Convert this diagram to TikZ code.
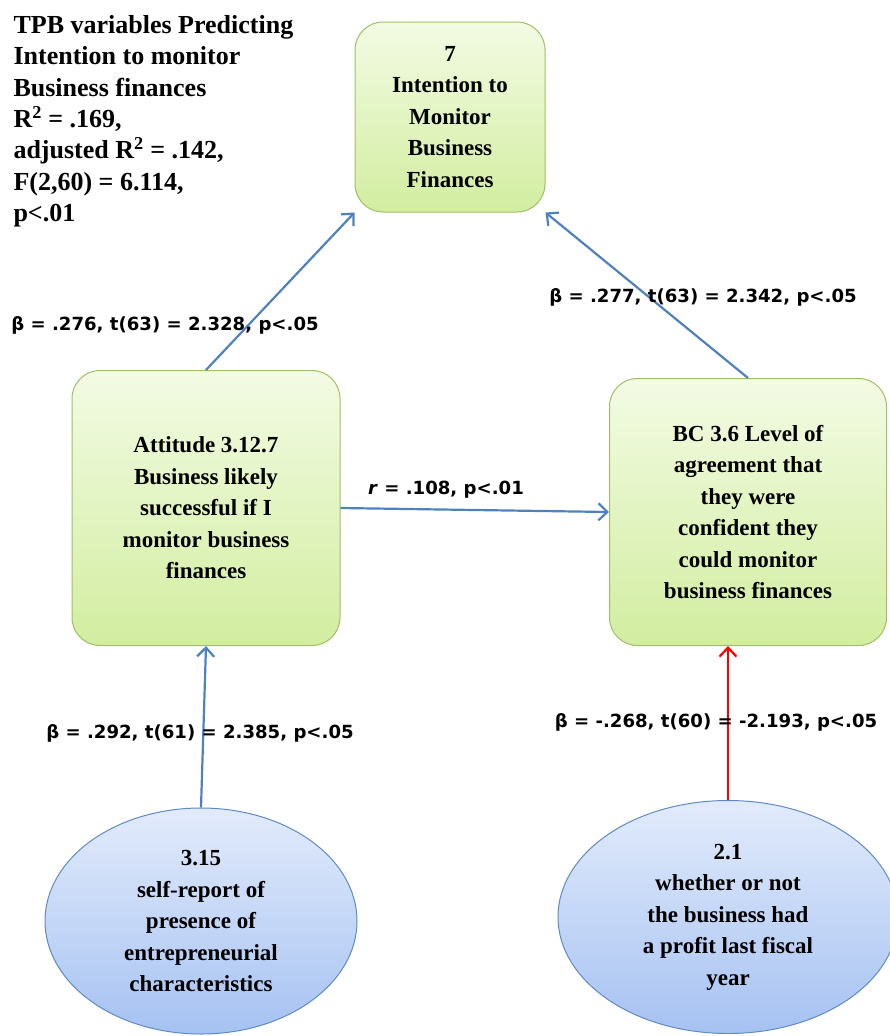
\documentclass[tikz,border=0pt]{standalone}
\usepackage{fontspec}
\setmainfont{Liberation Serif}
\newfontfamily\statfont{DejaVu Sans}
\usetikzlibrary{positioning, shapes.geometric, arrows.meta}
\definecolor{edgegreen}{HTML}{9fc063}
\definecolor{topgreen}{HTML}{f3fbe4}
\definecolor{botgreen}{HTML}{d2eda0}
\definecolor{edgeblue}{HTML}{5f8bc4}
\definecolor{topblue}{HTML}{e2ebfb}
\definecolor{botblue}{HTML}{a6c2f2}
\definecolor{linkblue}{HTML}{4f81bd}
\definecolor{linkred}{HTML}{ff0000}

\begin{document}
\begin{tikzpicture}[
  x=1pt, y=-1pt,
  font=\fontsize{23}{31.5}\selectfont\bfseries,
  box/.style={draw=edgegreen, line width=1pt, rounded corners=28pt, top color=topgreen, bottom color=botgreen, inner sep=0pt, align=center},
  cause/.style={ellipse, draw=edgeblue, line width=1pt, top color=topblue, bottom color=botblue, inner sep=0pt, align=center},
  stat/.style={font=\statfont\fontsize{18.1}{21}\selectfont\bfseries},
  arr/.style={-{Straight Barb[length=9pt,width=17pt]}, line width=2.2pt, linkblue}
]
  \useasboundingbox (0,0) rectangle (889,1036);

  \node[anchor=north west, align=left, font=\fontsize{26}{31.3}\selectfont\bfseries] (summary) at (10,12)
    {TPB variables Predicting\\Intention to monitor\\Business finances\\R\textsuperscript{2} = .169,\\adjusted R\textsuperscript{2} = .142,\\F(2,60) = 6.114,\\p<.01};

  \node[box, minimum width=190pt, minimum height=190pt] (intent) at (450,117)
    {7\\Intention to\\Monitor\\Business\\Finances};
  \node[box, minimum width=268pt, minimum height=275pt] (attitude) at (206,508)
    {Attitude 3.12.7\\Business likely\\successful if I\\monitor business\\finances};
  \node[box, minimum width=277pt, minimum height=267pt] (confid) at (748,512)
    {BC 3.6 Level of\\agreement that\\they were\\confident they\\could monitor\\business finances};
  \node[cause, minimum width=312pt, minimum height=226pt] (traits) at (201,921)
    {3.15\\self-report of\\presence of\\entrepreneurial\\characteristics};
  \node[cause, minimum width=340pt, minimum height=233pt] (profit) at (728,917)
    {2.1\\whether or not\\the business had\\a profit last fiscal\\year};

  \draw[arr] (attitude.north) -- (intent.south west);
  \draw[arr] (confid.north) -- (intent.south east);
  \draw[arr] (attitude.east) -- (confid.west);
  \draw[arr] (traits.north) -- (attitude.south);
  \draw[arr, linkred] (profit.north) -- (profit.north |- confid.south);

  \node[stat] (b1) at (165,325) {β = .276, t(63) = 2.328, p<.05};
  \node[stat] (b2) at (703,297) {β = .277, t(63) = 2.342, p<.05};
  \node[stat] (r1) at (446,490) {\textit{r} = .108, p<.01};
  \node[stat] (b3) at (200,733) {β = .292, t(61) = 2.385, p<.05};
  \node[stat] (b4) at (716,722) {β = -.268, t(60) = -2.193, p<.05};
\end{tikzpicture}
\end{document}
